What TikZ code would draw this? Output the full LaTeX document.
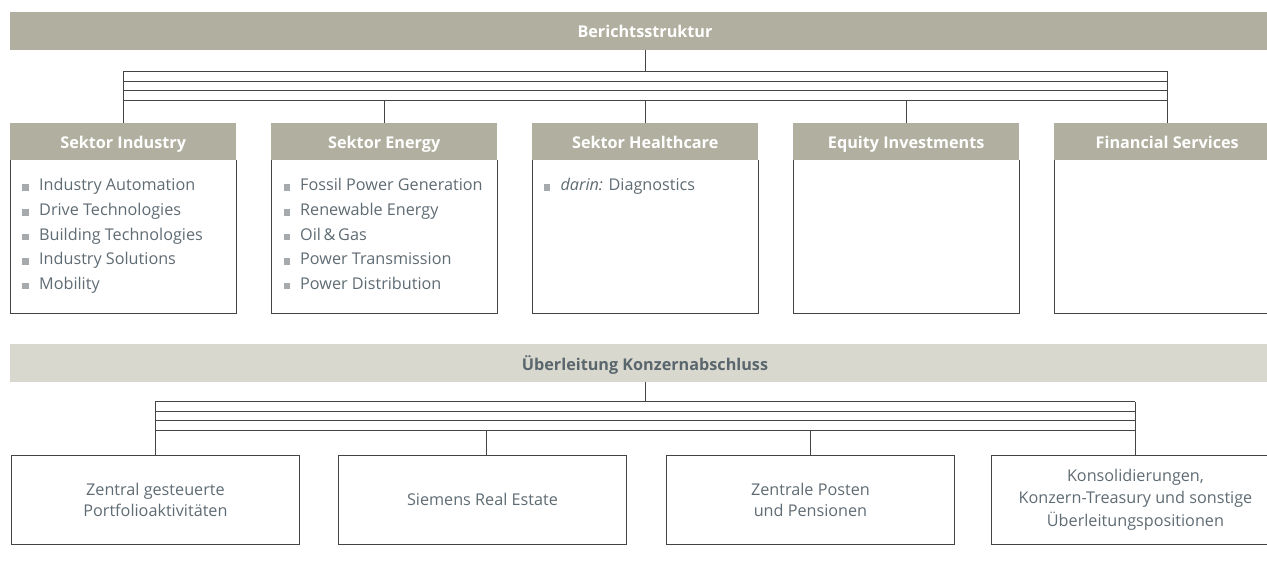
\documentclass[tikz,border=0pt]{standalone}
\usepackage{fontspec}
\setmainfont{Open Sans}
\definecolor{hdr}{HTML}{B1B0A0}
\definecolor{barlow}{HTML}{D9D8CF}
\definecolor{txt}{HTML}{5F6B73}
\definecolor{txtb}{HTML}{5A666D}
\definecolor{bul}{HTML}{A6AAAD}
\definecolor{ln}{HTML}{444444}
\newcommand{\sqb}{\textcolor{bul}{\rule{6.5pt}{6.5pt}}\hspace{10.2pt}}
\begin{document}
\begin{tikzpicture}[x=1pt,y=-1pt,
  line/.style={draw=ln, line width=0.9pt},
  hbar/.style={fill=hdr, minimum width=1270pt, minimum height=37.7pt, inner sep=0pt,
    text=white, font=\bfseries\fontsize{16.2}{19}\selectfont, text height=13.5pt, text depth=0pt},
  lbar/.style={fill=barlow, minimum width=1270pt, minimum height=37.7pt, inner sep=0pt,
    text=txtb, font=\bfseries\fontsize{16.2}{19}\selectfont, text height=15.5pt, text depth=0pt},
  sechead/.style={fill=hdr, minimum width=226pt, minimum height=37pt, inner sep=0pt,
    text=white, font=\bfseries\fontsize{16.2}{19}\selectfont, text height=13.5pt, text depth=0pt,
    anchor=north west},
  secbody/.style={minimum width=226pt, minimum height=152.7pt, inner sep=0pt, anchor=north},
  item/.style={inner sep=0pt, anchor=base west, text=txt, font=\fontsize{16.2}{19}\selectfont},
  lowbox/.style={draw=ln, line width=0.9pt, minimum width=288.6pt, minimum height=89pt,
    inner sep=0pt, align=center, text=txt, font=\fontsize{16.2}{21}\selectfont, anchor=north west},
]
\useasboundingbox (0,0) rectangle (1267,564);

% ---------- top bar ----------
\node[hbar] (bar1) at (645,30.85) {Berichtsstruktur};

% ---------- sector headers and bodies ----------
\node[sechead] (hInd) at (10,123) {Sektor Industry};
\node[sechead] (hEn)  at (271,123) {Sektor Energy};
\node[sechead] (hHc)  at (532,123) {Sektor Healthcare};
\node[sechead] (hEq)  at (793,123) {Equity Investments};
\node[sechead] (hFin) at (1054,123) {Financial Services};

\foreach \n/\b in {hInd/bInd,hEn/bEn,hHc/bHc,hEq/bEq,hFin/bFin}{
  \node[secbody] (\b) at (\n.south) {};
  \draw[line] (\b.north west) |- (\b.south east) -- (\b.north east);
}

% ---------- lists ----------
\foreach \t [count=\i] in {Industry Automation, Drive Technologies, Building Technologies, Industry Solutions, Mobility}
  \node[item] (ind\i) at (22.3,{191+24.6*(\i-1)}) {\sqb\t};
\foreach \t [count=\i] in {Fossil Power Generation, Renewable Energy, Oil\,\&\,Gas, Power Transmission, Power Distribution}
  \node[item] (en\i) at (283.3,{191+24.6*(\i-1)}) {\sqb\t};
\node[item] (hc1) at (543.7,191) {\sqb{\itshape darin:} Diagnostics};

% ---------- top bus ----------
\coordinate (ta) at (0,71.3);
\coordinate (tb) at (0,81.3);
\coordinate (tc) at (0,90.7);
\coordinate (td) at (0,100);
\foreach \c in {ta,tb,tc,td}
  \draw[line] (hInd.north |- \c) -- (hFin.north |- \c);
\draw[line] (bar1.south) -- (bar1.south |- ta);
\draw[line] (hInd.north |- ta) -- (hInd.north);
\draw[line] (hFin.north |- ta) -- (hFin.north);
\foreach \n in {hEn,hHc,hEq}
  \draw[line] (\n.north |- td) -- (\n.north);

% ---------- lower bar ----------
\node[lbar] (bar2) at (645,362.85) {Überleitung Konzernabschluss};

% ---------- lower boxes ----------
\node[lowbox] (b1) at (10.7,454.7) {Zentral gesteuerte\\Portfolioaktivitäten};
\node[lowbox] (b2) at (337.7,454.7) {Siemens Real Estate};
\node[lowbox] (b3) at (665.7,454.7) {Zentrale Posten\\und Pensionen};
\node[lowbox, font=\fontsize{16.2}{22.8}\selectfont] (b4) at (990.7,454.7) {Konsolidierungen,\\Konzern-Treasury und sonstige\\Überleitungspositionen};

% ---------- lower bus ----------
\coordinate (la) at (0,401.7);
\coordinate (lb) at (0,411.3);
\coordinate (lc) at (0,420.7);
\coordinate (ld) at (0,430);
\foreach \c in {la,lb,lc,ld}
  \draw[line] (b1.north |- \c) -- (b4.north |- \c);
\draw[line] (bar2.south) -- (bar2.south |- la);
\draw[line] (b1.north |- la) -- (b1.north);
\draw[line] (b4.north |- la) -- (b4.north);
\draw[line] ([xshift=4pt]b2.north |- ld) -- ([xshift=4pt]b2.north);
\draw[line] (b3.north |- ld) -- (b3.north);
\end{tikzpicture}
\end{document}
